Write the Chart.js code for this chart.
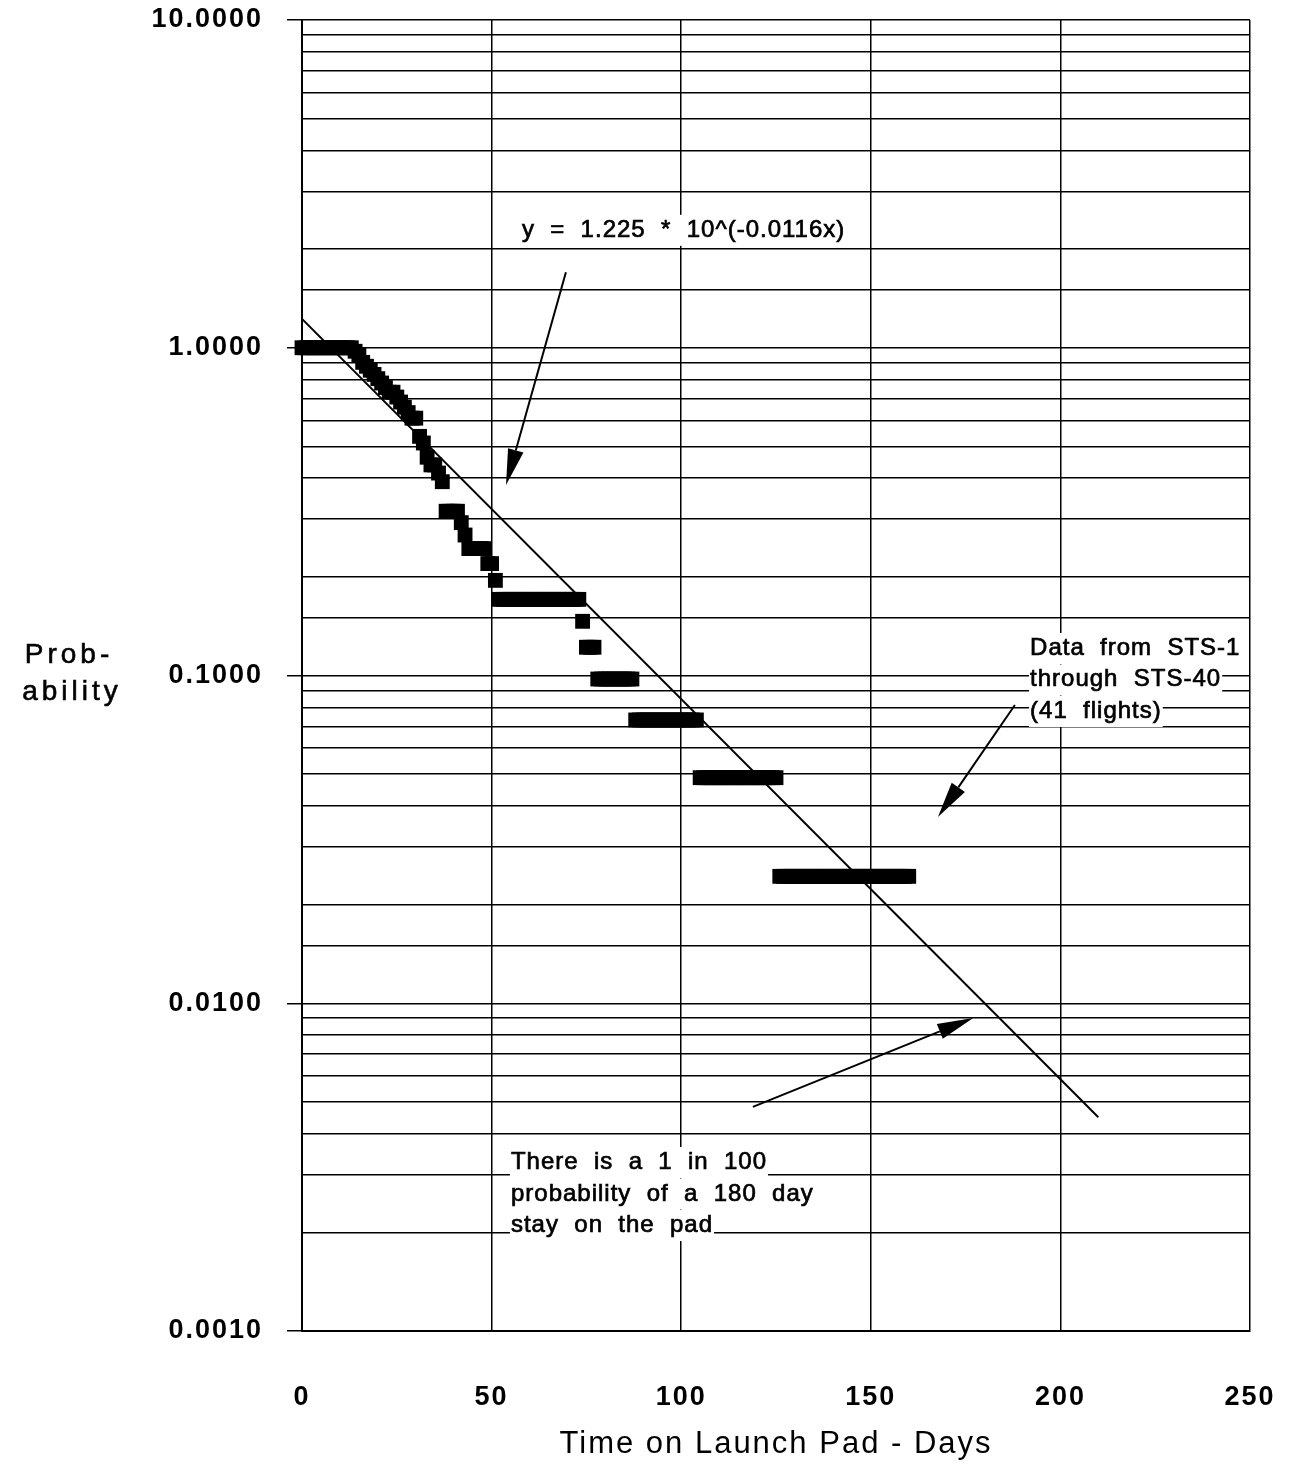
<!DOCTYPE html>
<html>
<head>
<meta charset="utf-8">
<script src="https://cdn.jsdelivr.net/npm/chart.js@4.4.1/dist/chart.umd.min.js"></script>
<style>
  html, body { margin: 0; padding: 0; background: #fff; }
  #wrap { width: 1290px; height: 1467px; }
</style>
</head>
<body>
<div id="wrap"><canvas id="chart"></canvas></div>
<script>
// Shuttle pad stays, STS-1 .. STS-40: how many of the 41 flights were
// still on the pad on each day, given as runs of days with the same count
const FLIGHTS = 41;
const runFirstDay = [0, 14, 15, 16, 17, 18, 19, 20, 21, 22, 23, 25, 26, 27, 28, 29, 31, 32, 33, 34, 36, 37, 38, 42, 43, 44, 49, 51, 52, 74, 75, 78, 88, 105, 126];
const runLastDay  = [13, 14, 15, 16, 17, 18, 19, 20, 21, 22, 24, 25, 26, 27, 28, 30, 31, 32, 33, 35, 36, 37, 41, 42, 43, 48, 50, 51, 73, 74, 77, 87, 104, 125, 160];
const runFlights  = [41, 40, 39, 37, 36, 35, 34, 33, 32, 31, 30, 29, 28, 27, 26, 25, 22, 21, 19, 18, 17, 16, 13, 12, 11, 10, 9, 8, 7, 6, 5, 4, 3, 2, 1];

// fitted curve y = a * 10^(b x), drawn out to day 210
const fitA = 1.225;
const fitB = -0.0116;
const fitDays = [0, 210];

const xTicks = [0, 50, 100, 150, 200, 250];

// one square per day
const points = [];
runFirstDay.forEach((first, i) => {
  for (let d = first; d <= runLastDay[i]; d++) {
    points.push({ x: d, y: runFlights[i] / FLIGHTS });
  }
});
const fitLine = fitDays.map(d => ({ x: d, y: fitA * Math.pow(10, fitB * d) }));

// callouts, anchored in day / probability units
const notes = [
  { day: 58, prob: 2.18, lines: ['y  =  1.225  *  10^(-0.0116x)'] },
  { day: 192, prob: 0.1155, lines: ['Data  from  STS-1', 'through  STS-40', '(41  flights)'] },
  { day: 55.1, prob: 0.00312, lines: ['There  is  a  1  in  100', 'probability  of  a  180  day', 'stay  on  the  pad'] }
];
const arrows = [
  { from: [69.6, 1.70], to: [53.8, 0.381] },
  { from: [188.0, 0.0813], to: [167.7, 0.0370] },
  { from: [118.9, 0.00483], to: [177.0, 0.00902] }
];

const isDecade = v => Math.abs(Math.log10(v) - Math.round(Math.log10(v))) < 1e-6;

function inkText(ctx, t, x, y) {
  ctx.fillText(t, x, y);
  ctx.strokeText(t, x, y);
}

const annotate = {
  id: 'annotate',
  beforeDraw(chart) {
    chart.ctx.letterSpacing = '2px';
  },
  afterDatasetsDraw(chart) {
    const { ctx, scales: { x, y } } = chart;
    ctx.save();
    ctx.fillStyle = '#000';
    ctx.strokeStyle = '#000';

    ctx.font = '24px "Liberation Sans", Arial, sans-serif';
    ctx.letterSpacing = '1px';
    ctx.lineWidth = 0.7;
    ctx.textAlign = 'left';
    ctx.textBaseline = 'alphabetic';
    notes.forEach(n => {
      const px = x.getPixelForValue(n.day);
      const py = y.getPixelForValue(n.prob);
      n.lines.forEach((t, i) => {
        const by = py + i * 31.5;
        const w = ctx.measureText(t).width;
        ctx.fillStyle = '#fff';
        ctx.fillRect(px - 1, by - 22, w + 2, 31);
        ctx.fillStyle = '#000';
        inkText(ctx, t, px, by);
      });
    });

    ctx.lineWidth = 2;
    arrows.forEach(a => {
      const x0 = x.getPixelForValue(a.from[0]), y0 = y.getPixelForValue(a.from[1]);
      const x1 = x.getPixelForValue(a.to[0]), y1 = y.getPixelForValue(a.to[1]);
      const ang = Math.atan2(y1 - y0, x1 - x0);
      const len = 36, half = 8;
      const bx = x1 - len * Math.cos(ang), by = y1 - len * Math.sin(ang);
      ctx.beginPath();
      ctx.moveTo(x0, y0);
      ctx.lineTo(bx, by);
      ctx.stroke();
      ctx.beginPath();
      ctx.moveTo(x1, y1);
      ctx.lineTo(bx + half * Math.sin(ang), by - half * Math.cos(ang));
      ctx.lineTo(bx - half * Math.sin(ang), by + half * Math.cos(ang));
      ctx.closePath();
      ctx.fill();
    });

    // y axis title, stacked on two lines
    ctx.font = '28px "Liberation Sans", Arial, sans-serif';
    ctx.letterSpacing = '4px';
    ctx.lineWidth = 0.6;
    ctx.textAlign = 'center';
    inkText(ctx, 'Prob-', 69, 663);
    inkText(ctx, 'ability', 72, 700);
    ctx.restore();
  }
};

new Chart(document.getElementById('chart'), {
  data: {
    datasets: [{
      type: 'scatter',
      data: points,
      pointStyle: 'rect',
      pointRadius: 10.5,
      pointHoverRadius: 10.5,
      backgroundColor: '#000',
      borderWidth: 0,
      clip: false
    }, {
      type: 'line',
      data: fitLine,
      borderColor: '#000',
      borderWidth: 2,
      pointRadius: 0,
      fill: false
    }]
  },
  options: {
    responsive: true,
    maintainAspectRatio: false,
    animation: false,
    events: [],
    layout: { padding: { top: 20, right: 40, bottom: 0, left: 0 } },
    plugins: { legend: { display: false }, tooltip: { enabled: false } },
    scales: {
      x: {
        type: 'linear',
        min: 0,
        max: 250,
        afterBuildTicks: s => { s.ticks = xTicks.map(v => ({ value: v })); },
        afterFit: s => { s.height = 136; s.paddingLeft = 0; s.paddingRight = 0; },
        grid: { color: '#000', lineWidth: 1.5, drawTicks: false },
        border: { color: '#000', width: 2 },
        ticks: {
          padding: 50,
          color: '#000',
          font: { family: '"Liberation Sans", Arial, sans-serif', size: 27, weight: 'bold' },
          maxRotation: 0
        },
        title: {
          display: true,
          text: 'Time on Launch Pad - Days',
          color: '#000',
          font: { family: '"Liberation Sans", Arial, sans-serif', size: 31 },
          padding: { top: 0, bottom: 4 }
        }
      },
      y: {
        type: 'logarithmic',
        min: 0.001,
        max: 10,
        afterFit: s => { s.width = 302; s.paddingTop = 0; s.paddingBottom = 0; },
        grid: {
          color: '#000',
          lineWidth: 1.5,
          tickLength: 15,
          tickColor: c => (c.tick && isDecade(c.tick.value)) ? '#000' : 'rgba(0,0,0,0)'
        },
        border: { color: '#000', width: 2 },
        ticks: {
          autoSkip: false,
          padding: 24,
          color: '#000',
          font: { family: '"Liberation Sans", Arial, sans-serif', size: 27, weight: 'bold' },
          callback: v => isDecade(v) ? Number(v).toFixed(4) : ''
        }
      }
    }
  },
  plugins: [annotate]
});
</script>
</body>
</html>
